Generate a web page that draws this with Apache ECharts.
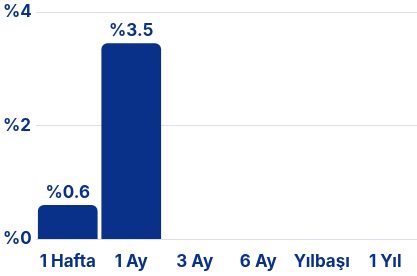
<!DOCTYPE html>
<html>
<head>
<meta charset="utf-8">
<script src="https://cdn.jsdelivr.net/npm/echarts@6/dist/echarts.min.js"></script>
<style>
  html, body { margin: 0; padding: 0; background: #fff; }
  #main { width: 417px; height: 276px; }
</style>
</head>
<body>
<div id="main"></div>
<script>
const periods = ["1 Hafta", "1 Ay", "3 Ay", "6 Ay", "Yılbaşı", "1 Yıl"];
const returns = [0.6, 3.45, null, null, null, null];
const yTicks = [0, 2, 4];

const navy = "#0a318a";
const font = "Inter";

const chart = echarts.init(document.getElementById("main"));

chart.setOption({
  animation: false,
  grid: { left: 36, right: 0, top: 12, bottom: 37 },
  xAxis: {
    type: "category",
    data: periods,
    axisLine: { show: false },
    axisTick: { show: false },
    axisLabel: {
      interval: 0,
      hideOverlap: false,
      margin: 14,
      color: navy,
      fontFamily: font,
      fontWeight: "bold",
      fontSize: 17,
    },
  },
  yAxis: {
    type: "value",
    min: yTicks[0],
    max: yTicks[yTicks.length - 1],
    interval: 2,
    splitLine: { lineStyle: { color: "#dcdcec", width: 1 } },
    axisLabel: {
      align: "left",
      margin: 33,
      color: navy,
      fontFamily: font,
      fontWeight: "bold",
      fontSize: 17,
      formatter: (v) => "%" + v,
    },
  },
  series: [
    {
      type: "bar",
      data: returns,
      barCategoryGap: "6%",
      itemStyle: { color: navy, borderRadius: [6, 6, 0, 0] },
      label: {
        show: true,
        position: "top",
        distance: 4,
        color: navy,
        fontFamily: font,
        fontWeight: "bold",
        fontSize: 17,
        formatter: (p) => "%" + p.value.toFixed(1),
      },
    },
  ],
});
</script>
</body>
</html>
